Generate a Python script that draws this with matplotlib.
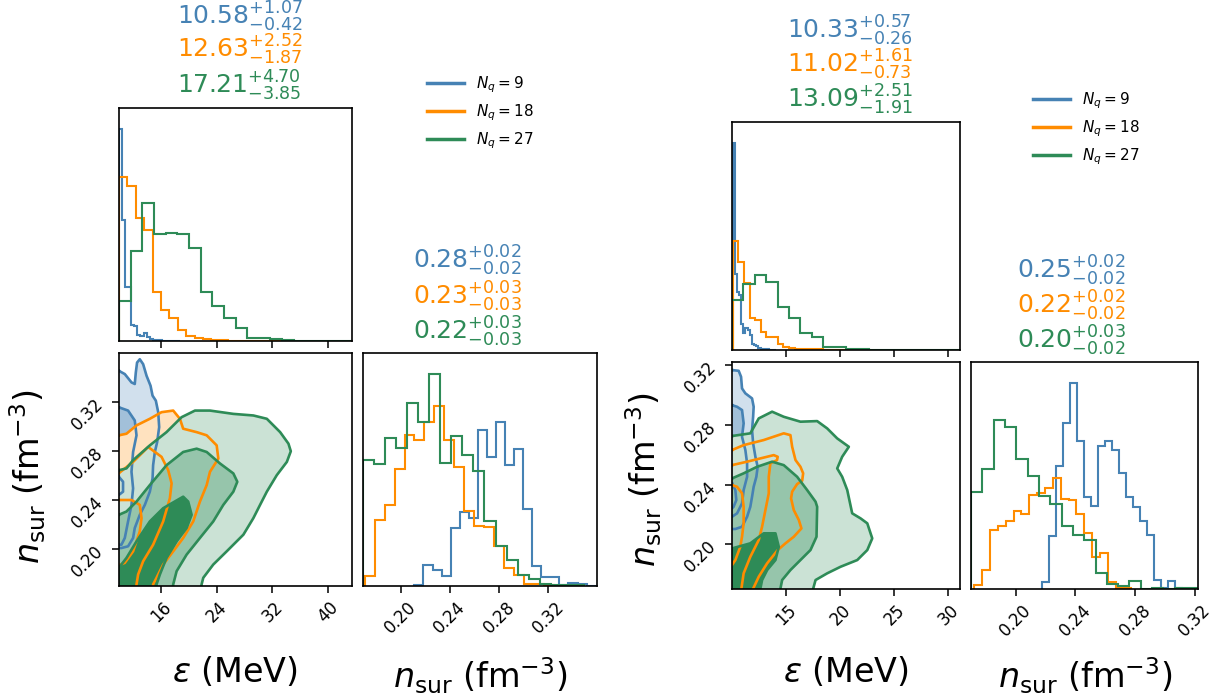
import numpy as np
import matplotlib.pyplot as plt
from matplotlib.lines import Line2D

W, H = 1228, 698

colors = ['steelblue', 'darkorange', 'seagreen']
labels = [r'$N_q = 9$', r'$N_q = 18$', r'$N_q = 27$']
# fill shades for the three credible levels (outer, middle, inner)
fills = [['#d1e0ed', '#a2c0d9', '#4682b4'],
         ['#ffe2bf', '#ffc57f', '#ff8c00'],
         ['#cbe2d5', '#96c5ab', '#2e8b57']]

# ---------------- left corner ----------------
L_eps_lim = (10.0, 43.4)
L_nsur_lim = (0.1695, 0.3597)
L_eps_ticks = [16, 24, 32, 40]
L_nsur_ticks = [0.20, 0.24, 0.28, 0.32]

L_eps_range = [(10.0, 18.8), (10.0, 34.1), (10.0, 43.4)]
L_eps_hist = [
    [634, 362, 162, 162, 47, 45, 17, 14, 24, 12, 7, 4, 3, 2, 1, 1, 0.5, 0.5, 0, 0.5],
    [492, 464, 367, 332, 147, 92, 69, 34, 14, 10, 6, 4, 2, 1, 1, 0.5, 0.5, 0, 0, 0],
    [119, 270, 412, 319, 324, 319, 277, 147, 104, 69, 40, 10, 8, 5, 4, 1, 1, 0.5, 1, 1],
]
L_nsur_range = [(0.2113, 0.3586), (0.1708, 0.3330), (0.1695, 0.3490)]
L_nsur_hist = [
    [2, 62, 48, 30, 172, 222, 202, 465, 385, 490, 360, 410, 230, 60, 27, 27, 2, 10, 7, 1],
    [30, 198, 242, 348, 452, 435, 488, 537, 435, 355, 223, 178, 175, 120, 55, 32, 5, 5, 2, 1],
    [375, 365, 442, 412, 547, 490, 632, 367, 448, 392, 342, 195, 120, 77, 32, 20, 7, 4, 2, 2],
]

L_blue_outer = [(9.97, 0.3452), (10.83, 0.3425), (11.79, 0.3357), (12.26, 0.3344), (12.41, 0.3438),
                (12.59, 0.3519), (12.98, 0.3546), (13.46, 0.3506), (13.95, 0.3411), (14.52, 0.3330),
                (14.81, 0.3249), (15.28, 0.3208), (15.62, 0.3114), (15.76, 0.2992), (15.47, 0.2870),
                (15.14, 0.2789), (14.89, 0.2681), (14.81, 0.2573), (14.42, 0.2465), (13.70, 0.2357),
                (12.98, 0.2276), (12.26, 0.2168), (12.02, 0.2087), (11.30, 0.2019), (10.35, 0.2005),
                (9.97, 0.2005), (5, 0.2005), (5, 0.3452)]
L_blue_mid = [(9.97, 0.3154), (11.30, 0.3127), (12.26, 0.3046), (12.51, 0.2925), (12.02, 0.2789),
              (11.79, 0.2627), (12.02, 0.2492), (11.79, 0.2357), (11.30, 0.2222), (10.83, 0.2087),
              (10.35, 0.2032), (9.97, 0.2032), (5, 0.2032), (5, 0.3154)]
L_blue_in = [(9.97, 0.2587), (10.58, 0.2546), (10.58, 0.2465), (9.97, 0.2438), (5, 0.2438), (5, 0.2587)]

L_orange_outer = [(9.97, 0.2925), (11.07, 0.2938), (12.51, 0.3006), (14.42, 0.3060), (16.10, 0.3114),
                  (17.77, 0.3127), (18.73, 0.3060), (19.20, 0.2979), (21.13, 0.2951), (22.57, 0.2925),
                  (24.00, 0.2843), (24.24, 0.2735), (23.04, 0.2627), (22.57, 0.2519), (21.60, 0.2384),
                  (20.64, 0.2222), (19.20, 0.2087), (17.77, 0.1978), (16.33, 0.1870), (15.38, 0.1762),
                  (14.89, 0.1708), (14.8, 0.15), (5, 0.15), (5, 0.2925)]
L_orange_mid = [(9.97, 0.2616), (12.02, 0.2708), (14.18, 0.2830), (16.10, 0.2749), (17.05, 0.2641),
                (17.54, 0.2533), (17.29, 0.2411), (16.33, 0.2222), (14.89, 0.2032), (13.46, 0.1897),
                (12.74, 0.1789), (12.51, 0.1708), (12.4, 0.15), (5, 0.15), (5, 0.2616)]
L_orange_in = [(9.97, 0.2397), (11.79, 0.2397), (12.98, 0.2357), (13.23, 0.2249), (12.98, 0.2141),
               (12.02, 0.1978), (10.83, 0.1884), (9.97, 0.1865), (5, 0.1865), (5, 0.2397)]

L_green_outer = [(9.97, 0.2640), (11.07, 0.2655), (12.02, 0.2722), (14.42, 0.2843), (16.81, 0.2951),
                 (18.97, 0.3073), (20.89, 0.3127), (23.04, 0.3127), (26.39, 0.3100), (29.26, 0.3087),
                 (31.19, 0.3060), (33.10, 0.2951), (34.29, 0.2857), (34.63, 0.2795), (34.06, 0.2708),
                 (32.62, 0.2600), (31.19, 0.2465), (30.22, 0.2357), (29.26, 0.2249), (27.83, 0.2114),
                 (25.44, 0.1978), (23.51, 0.1870), (22.08, 0.1762), (21.84, 0.1708), (21.5, 0.15),
                 (5, 0.15), (5, 0.2640)]
L_green_mid = [(9.97, 0.2276), (11.07, 0.2303), (12.51, 0.2384), (14.42, 0.2519), (16.81, 0.2681),
               (19.20, 0.2789), (21.13, 0.2816), (22.57, 0.2789), (24.48, 0.2695), (26.39, 0.2614),
               (26.96, 0.2546), (26.39, 0.2465), (24.95, 0.2357), (23.51, 0.2222), (21.60, 0.2087),
               (19.69, 0.1951), (18.26, 0.1816), (17.77, 0.1708), (17.6, 0.15), (5, 0.15), (5, 0.2276)]
L_green_in = [(9.97, 0.1843), (11.07, 0.1924), (12.51, 0.2059), (14.42, 0.2222), (16.33, 0.2330),
              (19.20, 0.2424), (19.92, 0.2384), (20.41, 0.2276), (19.69, 0.2168), (18.26, 0.2059),
              (16.81, 0.1924), (15.86, 0.1789), (15.38, 0.1708), (15.2, 0.15), (5, 0.15), (5, 0.1843)]

L_eps_title = [('10.58', '1.07', '0.42'), ('12.63', '2.52', '1.87'), ('17.21', '4.70', '3.85')]
L_nsur_title = [('0.28', '0.02', '0.02'), ('0.23', '0.03', '0.03'), ('0.22', '0.03', '0.03')]

# ---------------- right corner ----------------
R_eps_lim = (9.95, 31.1)
R_nsur_lim = (0.1701, 0.3222)
R_eps_ticks = [15, 20, 25, 30]
R_nsur_ticks = [0.20, 0.24, 0.28, 0.32]

R_eps_range = [(10.0, 14.0), (10.0, 20.5), (9.95, 31.1)]
R_eps_hist = [
    [621, 228, 175, 165, 78, 50, 65, 60, 45, 18, 15, 12, 6, 4, 3, 2, 2, 1, 1, 0.5],
    [328, 263, 200, 96, 90, 55, 40, 40, 18, 8, 5, 4, 3, 2, 2, 2, 1, 1, 1, 1],
    [151, 198, 226, 203, 128, 96, 51, 38, 8, 8, 2, 2, 1, 0.5, 0.5, 0.5, 0.3, 0.3, 0.3, 0.3],
]
R_nsur_range = [(0.2174, 0.3115), (0.1723, 0.2776), (0.1701, 0.3218)]
R_nsur_hist = [
    [21, 159, 371, 501, 621, 446, 278, 249, 431, 446, 419, 348, 276, 248, 204, 164, 28, 3, 23, 3],
    [11, 56, 179, 189, 206, 234, 226, 283, 288, 304, 333, 271, 269, 226, 169, 96, 109, 21, 3, 3],
    [291, 361, 508, 486, 391, 341, 281, 256, 189, 161, 148, 48, 16, 9, 23, 1, 2, 0.5, 2, 2],
]

R_blue_outer = [(9.95, 0.3168), (10.57, 0.3163), (10.79, 0.3123), (10.88, 0.3045), (11.19, 0.3012),
                (11.81, 0.2978), (11.96, 0.2922), (11.91, 0.2855), (11.81, 0.2766), (11.91, 0.2677),
                (12.12, 0.2587), (12.33, 0.2520), (12.21, 0.2453), (11.96, 0.2386), (11.81, 0.2319),
                (11.65, 0.2252), (11.35, 0.2185), (10.88, 0.2118), (10.26, 0.2103), (9.95, 0.2103),
                (5, 0.2103), (5, 0.3168)]
R_blue_mid = [(9.95, 0.2933), (10.42, 0.2922), (10.88, 0.2900), (11.03, 0.2811), (10.88, 0.2721),
              (11.19, 0.2632), (11.35, 0.2543), (11.35, 0.2453), (11.03, 0.2364), (10.88, 0.2275),
              (10.42, 0.2208), (9.95, 0.2185), (5, 0.2185), (5, 0.2933)]
R_blue_in = [(9.95, 0.2409), (10.26, 0.2364), (10.35, 0.2297), (10.10, 0.2252), (9.95, 0.2241),
             (5, 0.2241), (5, 0.2409)]

R_orange_outer = [(9.95, 0.2632), (11.03, 0.2665), (12.89, 0.2699), (14.75, 0.2744), (15.37, 0.2732),
                  (15.53, 0.2654), (15.84, 0.2565), (16.30, 0.2520), (16.55, 0.2476), (16.46, 0.2427),
                  (15.99, 0.2404), (15.53, 0.2353), (15.43, 0.2308), (15.68, 0.2230), (16.15, 0.2163),
                  (16.39, 0.2107), (15.68, 0.2051), (14.91, 0.2007), (14.19, 0.1962), (13.21, 0.1873),
                  (12.43, 0.1783), (11.91, 0.1703), (11.8, 0.15), (5, 0.15), (5, 0.2632)]
R_orange_mid = [(9.95, 0.2531), (11.35, 0.2554), (12.58, 0.2576), (13.82, 0.2598), (14.19, 0.2587),
                (14.13, 0.2565), (13.51, 0.2543), (13.36, 0.2453), (13.36, 0.2342), (13.05, 0.2230),
                (12.74, 0.2118), (12.43, 0.2029), (11.65, 0.1917), (11.03, 0.1806), (10.82, 0.1703),
                (10.7, 0.15), (5, 0.15), (5, 0.2531)]
R_orange_in = [(9.95, 0.2397), (10.42, 0.2386), (10.88, 0.2342), (11.03, 0.2252), (11.03, 0.2141),
               (10.88, 0.2051), (10.72, 0.1984), (10.26, 0.1895), (9.95, 0.1862), (5, 0.1862),
               (5, 0.2397)]

R_green_outer = [(9.95, 0.2726), (11.65, 0.2744), (12.43, 0.2844), (13.67, 0.2889), (14.75, 0.2855),
                 (16.30, 0.2822), (17.85, 0.2826), (18.78, 0.2777), (19.71, 0.2710), (20.79, 0.2654),
                 (20.17, 0.2587), (19.71, 0.2509), (20.17, 0.2453), (20.64, 0.2364), (21.10, 0.2208),
                 (21.88, 0.2174), (22.50, 0.2141), (22.96, 0.2040), (22.50, 0.1962), (21.57, 0.1895),
                 (20.02, 0.1850), (18.78, 0.1806), (17.70, 0.1761), (17.48, 0.1703), (17.4, 0.15),
                 (5, 0.15), (5, 0.2726)]
R_green_mid = [(9.95, 0.2442), (11.03, 0.2476), (12.28, 0.2520), (13.67, 0.2554), (14.75, 0.2531),
               (15.99, 0.2453), (16.92, 0.2364), (17.70, 0.2286), (17.85, 0.2252), (17.79, 0.2051),
               (17.23, 0.1962), (16.30, 0.1895), (15.37, 0.1828), (14.60, 0.1761), (14.44, 0.1703),
               (14.4, 0.15), (5, 0.15), (5, 0.2442)]
R_green_in = [(9.95, 0.1973), (11.65, 0.2007), (12.89, 0.2074), (13.98, 0.2074), (14.29, 0.1984),
              (13.98, 0.1895), (13.21, 0.1828), (12.74, 0.1761), (12.58, 0.1703), (12.5, 0.15),
              (5, 0.15), (5, 0.1973)]

R_eps_title = [('10.33', '0.57', '0.26'), ('11.02', '1.61', '0.73'), ('13.09', '2.51', '1.91')]
R_nsur_title = [('0.25', '0.02', '0.02'), ('0.22', '0.02', '0.02'), ('0.20', '0.03', '0.02')]


def add_ax(fig, x0, y0, x1, y1):
    return fig.add_axes([x0 / W, 1 - y1 / H, (x1 - x0) / W, (y1 - y0) / H])


def style(ax):
    ax.tick_params(direction='out', length=5, width=1.1, labelsize=12)
    for s in ax.spines.values():
        s.set_linewidth(1.2)


def corner(fig, box, eps_lim, nsur_lim, eps_ticks, nsur_ticks,
           eps_range, eps_hist, nsur_range, nsur_hist, contours,
           eps_title, nsur_title, eps_tpos, nsur_tpos, leg_pos, lab_pos):
    (x0, x1, x2, x3), (y0, y1, y2, y3) = box
    ax_top = add_ax(fig, x0, y0, x1, y1)
    ax_2d = add_ax(fig, x0, y2, x1, y3)
    ax_1d = add_ax(fig, x2, y2, x3, y3)

    # epsilon marginal
    for i in range(3):
        edges = np.linspace(eps_range[i][0], eps_range[i][1], len(eps_hist[i]) + 1)
        ax_top.stairs(eps_hist[i], edges, color=colors[i], lw=1.5)
    ax_top.set_xlim(eps_lim)
    ax_top.set_ylim(0, 1.1 * max(max(h) for h in eps_hist))
    ax_top.set_xticks(eps_ticks)
    ax_top.set_xticklabels([])
    ax_top.set_yticks([])

    # n_sur marginal
    for i in range(3):
        edges = np.linspace(nsur_range[i][0], nsur_range[i][1], len(nsur_hist[i]) + 1)
        ax_1d.stairs(nsur_hist[i], edges, color=colors[i], lw=1.5)
    ax_1d.set_xlim(nsur_lim)
    ax_1d.set_ylim(0, 1.1 * max(max(h) for h in nsur_hist))
    ax_1d.set_xticks(nsur_ticks)
    ax_1d.set_xticklabels(['%.2f' % t for t in nsur_ticks], rotation=45)
    ax_1d.set_yticks([])

    # 2d credible regions
    for i in range(3):
        for lev, poly in enumerate(contours[i]):
            xs, ys = zip(*poly)
            ax_2d.fill(xs, ys, color=fills[i][lev], lw=0, zorder=1)
    for i in range(3):
        for poly in contours[i]:
            xs, ys = zip(*(poly + poly[:1]))
            ax_2d.plot(xs, ys, color=colors[i], lw=1.9, zorder=2)
    ax_2d.set_xlim(eps_lim)
    ax_2d.set_ylim(nsur_lim)
    ax_2d.set_xticks(eps_ticks)
    ax_2d.set_xticklabels([str(t) for t in eps_ticks], rotation=45)
    ax_2d.set_yticks(nsur_ticks)
    ax_2d.set_yticklabels(['%.2f' % t for t in nsur_ticks], rotation=45)

    for ax in (ax_top, ax_2d, ax_1d):
        style(ax)

    # titles (median +/- errors)
    for k, (m, up, lo) in enumerate(eps_title):
        fig.text(eps_tpos[0] / W, 1 - eps_tpos[1][k] / H,
                 r'$%s^{+%s}_{-%s}$' % (m, up, lo), color=colors[k],
                 fontsize=18, ha='center', va='baseline')
    for k, (m, up, lo) in enumerate(nsur_title):
        fig.text(nsur_tpos[0] / W, 1 - nsur_tpos[1][k] / H,
                 r'$%s^{+%s}_{-%s}$' % (m, up, lo), color=colors[k],
                 fontsize=18, ha='center', va='baseline')

    handles = [Line2D([], [], color=c, lw=2.5) for c in colors]
    fig.legend(handles, labels, loc='upper left',
               bbox_to_anchor=(leg_pos[0] / W, 1 - leg_pos[1] / H),
               frameon=False, fontsize=11, handlelength=2.4,
               borderaxespad=0, borderpad=0.4)

    (ex, ey), (yx, yy), (nx, ny) = lab_pos
    fig.text(ex / W, 1 - ey / H, r'$\varepsilon$ (MeV)', fontsize=24,
             ha='center', va='baseline')
    fig.text(yx / W, 1 - yy / H, r'$n_{\rm sur}$ (fm$^{-3}$)', fontsize=24,
             ha='center', va='center', rotation=90)
    fig.text(nx / W, 1 - ny / H, r'$n_{\rm sur}$ (fm$^{-3}$)', fontsize=24,
             ha='center', va='center')


fig = plt.figure(figsize=(W / 100, H / 100), dpi=100)

corner(fig, ((119, 352, 363, 597), (108, 341, 353, 586)),
       L_eps_lim, L_nsur_lim, L_eps_ticks, L_nsur_ticks,
       L_eps_range, L_eps_hist, L_nsur_range, L_nsur_hist,
       [[L_blue_outer, L_blue_mid, L_blue_in],
        [L_orange_outer, L_orange_mid, L_orange_in],
        [L_green_outer, L_green_mid, L_green_in]],
       L_eps_title, L_nsur_title,
       (239.5, (25, 58, 94)), (467, (269, 305, 340)),
       (421, 68), ((235, 682), (28, 477), (480, 676)))

corner(fig, ((732, 960, 971, 1198), (122, 350, 362, 589)),
       R_eps_lim, R_nsur_lim, R_eps_ticks, R_nsur_ticks,
       R_eps_range, R_eps_hist, R_nsur_range, R_nsur_hist,
       [[R_blue_outer, R_blue_mid, R_blue_in],
        [R_orange_outer, R_orange_mid, R_orange_in],
        [R_green_outer, R_green_mid, R_green_in]],
       R_eps_title, R_nsur_title,
       (849.5, (39, 73, 108)), (1071, (279, 314, 349)),
       (1027, 84), ((846, 682), (644, 480), (1085, 676)))

fig.savefig('out.png', dpi=100)
